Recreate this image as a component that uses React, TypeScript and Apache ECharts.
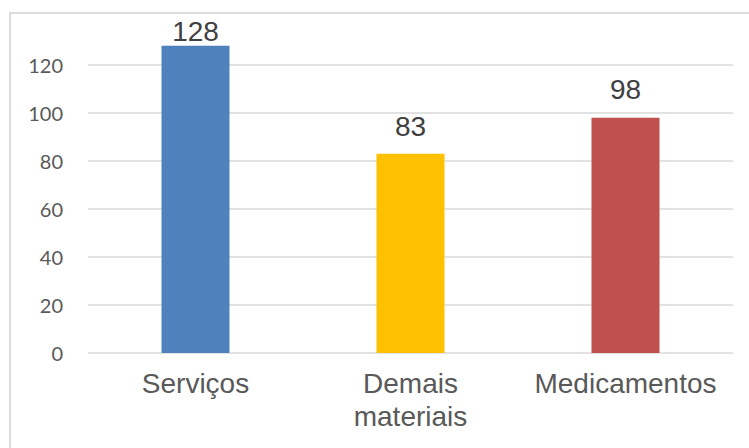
import React, { useEffect, useRef } from "react";
import * as echarts from "echarts";

const categories = ["Serviços", "Demais materiais", "Medicamentos"];
const values = [128, 83, 98];
const barColors = ["#4f81bd", "#ffc000", "#c0504d"];
const labelDistances = [0, 13, 14];

export default function App() {
  const ref = useRef<HTMLDivElement>(null);
  useEffect(() => {
    if (!ref.current) return;
    const chart = echarts.init(ref.current, undefined, { renderer: "svg" });
    chart.setOption({
      animation: false,
      backgroundColor: "#ffffff",
      grid: { left: 88, right: 16, top: 17, bottom: 95 },
      graphic: [
        {
          type: "rect",
          shape: { x: 10, y: 13, width: 780, height: 480 },
          style: { fill: "none", stroke: "#dcdcdc", lineWidth: 2 },
          silent: true,
        },
      ],
      xAxis: {
        type: "category",
        data: categories,
        axisLine: { show: false },
        axisTick: { show: false },
        axisLabel: {
          color: "#595959",
          fontFamily: "Liberation Sans, Arial, sans-serif",
          fontSize: 28,
          margin: 14,
          lineHeight: 33,
          interval: 0,
          formatter: (v: string) => v.replace(" ", "\n"),
        },
      },
      yAxis: {
        type: "value",
        min: 0,
        max: 140,
        interval: 20,
        axisLine: { show: false },
        axisTick: { show: false },
        axisLabel: {
          color: "#595959",
          fontFamily: "Lato, sans-serif",
          fontSize: 20,
          margin: 25,
          showMaxLabel: false,
        },
        splitLine: {
          show: true,
          showMaxLine: false,
          lineStyle: { color: "#d9d9d9", width: 1.5 },
        },
      },
      series: [
        {
          type: "bar",
          barWidth: 68,
          data: values.map((v, i) => ({
            value: v,
            itemStyle: { color: barColors[i] },
            label: { distance: labelDistances[i] },
          })),
          label: {
            show: true,
            position: "top",
            color: "#404040",
            fontFamily: "Liberation Sans, Arial, sans-serif",
            fontSize: 28,
          },
        },
      ],
    });
    return () => chart.dispose();
  }, []);
  return (
    <div
      ref={ref}
      style={{ position: "fixed", left: 0, top: 0, width: 749, height: 448 }}
    />
  );
}
